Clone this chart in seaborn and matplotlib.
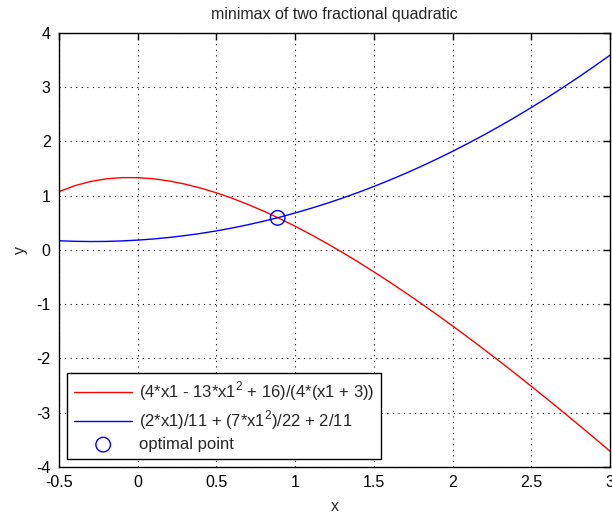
"""
Minimax of two fractional quadratic functions - recreated chart.
"""

import numpy as np
import pandas as pd
import matplotlib
matplotlib.use('Agg')
import matplotlib.pyplot as plt
import seaborn as sns

# Values
x_vals = [-0.5, -0.4, -0.3, -0.2, -0.1, 0.0, 0.1, 0.2, 0.3, 0.4, 0.5, 0.6,
          0.7, 0.8, 0.9, 1.0, 1.1, 1.2, 1.3, 1.4, 1.5, 1.6, 1.7, 1.8,
          1.9, 2.0, 2.1, 2.2, 2.3, 2.4, 2.5, 2.6, 2.7, 2.8, 2.9, 3.0]
red_vals = [1.075, 1.185, 1.262, 1.311, 1.334, 1.333, 1.312, 1.272, 1.214, 1.141,
            1.054, 0.953, 0.840, 0.716, 0.581, 0.438, 0.285, 0.124, -0.045, -0.220,
            -0.403, -0.591, -0.786, -0.985, -1.190, -1.400, -1.614, -1.833, -2.055,
            -2.281, -2.511, -2.745, -2.981, -3.221, -3.463, -3.708]
blue_vals = [0.170, 0.160, 0.156, 0.158, 0.167, 0.182, 0.203, 0.231, 0.265, 0.305,
             0.352, 0.405, 0.465, 0.531, 0.603, 0.682, 0.767, 0.858, 0.956, 1.060,
             1.170, 1.287, 1.410, 1.540, 1.676, 1.818, 1.967, 2.122, 2.283, 2.451,
             2.625, 2.805, 2.992, 3.185, 3.385, 3.591]
opt_x = [0.889]
opt_y = [0.592]

red_label = '(4*x1 - 13*x1$^2$ + 16)/(4*(x1 + 3))'
blue_label = '(2*x1)/11 + (7*x1$^2$)/22 + 2/11'
x_ticks = [-0.5, 0, 0.5, 1, 1.5, 2, 2.5, 3]
x_tick_labels = ['-0.5', '0', '0.5', '1', '1.5', '2', '2.5', '3']
y_ticks = [-4, -3, -2, -1, 0, 1, 2, 3, 4]

sns.set_style('white')
plt.rcParams['font.family'] = ['Liberation Sans', 'DejaVu Sans']
plt.rcParams['mathtext.fontset'] = 'custom'
plt.rcParams['mathtext.rm'] = 'Liberation Sans'
plt.rcParams['axes.unicode_minus'] = False

df = pd.DataFrame({'x': x_vals, 'red': red_vals, 'blue': blue_vals})

fig = plt.figure(figsize=(6.12, 5.15), dpi=100)
ax = fig.add_axes([0.0964, 0.0932, 0.9003, 0.8428])

sns.lineplot(data=df, x='x', y='red', color='#ff0000', linewidth=1.0,
             label=red_label, ax=ax)
sns.lineplot(data=df, x='x', y='blue', color='#0000ff', linewidth=1.0,
             label=blue_label, ax=ax)
sns.scatterplot(x=opt_x, y=opt_y, marker='o', s=110, facecolors='none',
                edgecolors='#0000ff', linewidths=1.0, label='optimal point',
                ax=ax, zorder=5)

ax.set_xlim(-0.5, 3)
ax.set_ylim(-4, 4)
ax.set_xticks(x_ticks)
ax.set_xticklabels(x_tick_labels)
ax.set_yticks(y_ticks)
ax.tick_params(direction='in', length=5, width=1, top=True, right=True,
               labelsize=11.5, colors='black', pad=6)
ax.grid(True, color='black', linestyle=(0, (1, 4)), linewidth=0.8)
for side in ax.spines.values():
    side.set_color('black')
    side.set_linewidth(1.0)

ax.set_xlabel('x', fontsize=11.5, labelpad=6)
ax.set_ylabel('y', fontsize=11.5, labelpad=6)
ax.set_title('minimax of two fractional quadratic', fontsize=11.5, pad=10)

leg = ax.legend(loc='lower left', fontsize=12, frameon=True, fancybox=False,
                edgecolor='black', framealpha=1, borderaxespad=0.5,
                handlelength=3.5, handletextpad=0.4, labelspacing=0.3,
                borderpad=0.4)
leg.get_frame().set_linewidth(1.0)

plt.savefig('out.png', dpi=100)
plt.close()
